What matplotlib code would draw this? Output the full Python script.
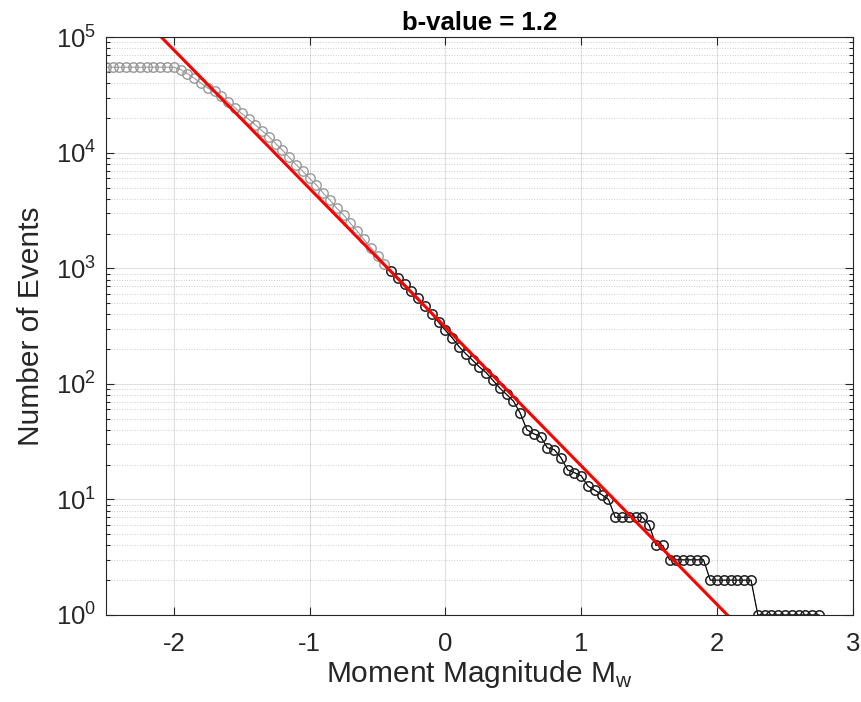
import matplotlib
matplotlib.use("Agg")
import matplotlib.pyplot as plt
from matplotlib.ticker import LogLocator, NullFormatter, FixedLocator
import numpy as np

plt.rcParams['font.family'] = ['Liberation Sans', 'DejaVu Sans']
plt.rcParams['mathtext.fontset'] = 'custom'
plt.rcParams['mathtext.rm'] = 'Liberation Sans'
plt.rcParams['axes.unicode_minus'] = False

# magnitude bins (0.05 wide) and cumulative counts
magnitudes = np.round(np.arange(-2.5, 2.76, 0.05), 2)
counts = [
    55000, 55000, 55000, 55000, 55000, 55000, 55000, 55000, 55000, 55000, 55000,
    52500, 48400, 44200, 40000, 36300, 33900, 30900, 27500, 24500, 21900,
    19500, 17400, 15500, 13800, 12000, 10500, 9100, 7900, 6900, 6000,
    5250, 4470, 3900, 3300, 2900, 2450, 2100, 1780, 1510, 1290, 1100,
    955, 830, 725, 630, 550, 470, 400, 340, 290, 250,
    210, 182, 160, 140, 125, 107, 92, 81, 71, 56,
    40, 37, 35, 28, 27, 23, 18, 17, 16, 13,
    12, 11, 10, 7, 7, 7, 7, 7, 6, 4, 4,
    3, 3, 3, 3, 3, 3,
    2, 2, 2, 2, 2, 2, 2,
    1, 1, 1, 1, 1, 1, 1, 1, 1, 1,
]
mc = -0.4          # completeness magnitude
a_value = 2.49
b_value = 1.2

counts = np.array(counts, dtype=float)
above = magnitudes >= mc - 1e-9

fig = plt.figure(figsize=(8.61, 7.02), dpi=100)
ax = fig.add_axes([0.123, 0.124, 0.8676, 0.823])

ax.semilogy(magnitudes, counts, '-o', color='#9a9a9a', mfc='none', mec='#999999',
            ms=6.8, mew=1.0, lw=0.8)
ax.semilogy(magnitudes[above], counts[above], '-o', color='black', mfc='none',
            mec='#222222', ms=6.8, mew=1.0, lw=0.8)

fit_m = np.array([-2.5, 3.0])
ax.semilogy(fit_m, 10 ** (a_value - b_value * fit_m), color='red', lw=2.2)

ax.set_xlim(-2.5, 3)
ax.set_ylim(1, 1e5)
ax.xaxis.set_major_locator(FixedLocator([-2, -1, 0, 1, 2, 3]))
ax.yaxis.set_major_locator(LogLocator(base=10, numticks=10))
ax.yaxis.set_minor_locator(LogLocator(base=10, subs=np.arange(2, 10), numticks=10))
ax.yaxis.set_minor_formatter(NullFormatter())

ax.grid(True, which='major', color='black', alpha=0.12, lw=0.8)
ax.grid(True, which='minor', axis='y', color='black', alpha=0.2, lw=0.7, ls=':')
ax.tick_params(which='both', direction='in', top=True, right=True,
               labelsize=18.5, colors='#262626', width=0.8)
ax.tick_params(which='major', length=6)
ax.tick_params(which='minor', length=3)
ax.tick_params(axis='x', pad=12)
ax.tick_params(axis='y', pad=7)
for s in ax.spines.values():
    s.set_color('#262626')
    s.set_linewidth(0.8)

ax.set_xlabel('Moment Magnitude M$_\\mathregular{w}$', fontsize=21.5, color='#262626',
              labelpad=2)
ax.set_ylabel('Number of Events', fontsize=21.5, color='#262626', labelpad=8)
ax.set_title('b-value = 1.2', fontsize=18.5, fontweight='bold', pad=5)

fig.savefig('out.png', dpi=100)
